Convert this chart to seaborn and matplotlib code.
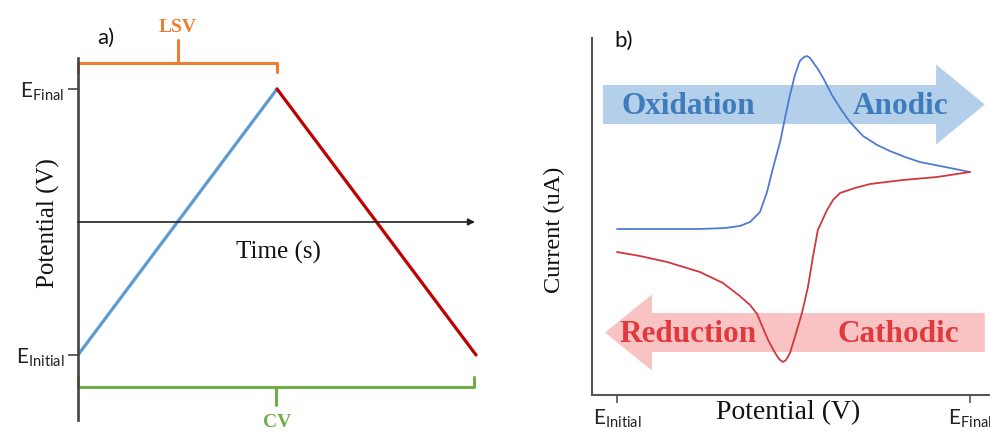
import matplotlib
matplotlib.use("Agg")
import matplotlib.pyplot as plt
from matplotlib.patches import FancyArrow
import seaborn as sns

# ---------------- data ----------------
# panel a: potential waveform (time, potential)
lsv_time = [0.0, 1.0]
lsv_potential = [-1.0, 1.0]
rev_time = [1.0, 2.0]
rev_potential = [1.0, -1.0]
a_tick_values = [-1.0, 1.0]
a_tick_labels = [r"$E_{Initial}$", r"$E_{Final}$"]

# panel b: cyclic voltammogram (normalised potential, current)
fwd_potential = [0.000, 0.122, 0.235, 0.306, 0.348, 0.377, 0.405, 0.425, 0.442,
                 0.462, 0.476, 0.490, 0.504, 0.518, 0.530, 0.538, 0.547, 0.555,
                 0.569, 0.584, 0.609, 0.632, 0.660, 0.697, 0.737, 0.773, 0.816,
                 0.858, 0.915, 0.958, 1.000]
fwd_current = [0.0, 0.0, 0.0, 0.1, 0.3, 0.7, 1.7, 3.7, 6.1,
               8.7, 11.1, 13.4, 15.4, 16.8, 17.2, 17.3, 17.1, 16.7,
               16.0, 15.1, 13.4, 12.1, 10.7, 9.3, 8.4, 7.8, 7.2,
               6.7, 6.3, 6.0, 5.7]
rev_pot_b = [1.000, 0.907, 0.810, 0.717, 0.674, 0.632, 0.612, 0.595, 0.569,
             0.555, 0.541, 0.524, 0.504, 0.490, 0.479, 0.470, 0.459, 0.448,
             0.428, 0.411, 0.397, 0.377, 0.348, 0.300, 0.235, 0.142, 0.065, 0.000]
rev_current = [5.7, 5.2, 4.9, 4.5, 4.1, 3.6, 2.9, 1.9, -0.1,
               -2.8, -5.8, -8.4, -10.8, -12.4, -13.1, -13.3, -13.0, -12.4,
               -11.1, -9.7, -8.5, -7.6, -6.7, -5.4, -4.3, -3.3, -2.7, -2.3]
b_tick_values = [0.0, 1.0]
b_tick_labels = [r"$E_{Initial}$", r"$E_{Final}$"]

# ---------------- style ----------------
sns.set_theme(style="white")
plt.rcParams["font.family"] = ["Liberation Serif", "DejaVu Serif"]
plt.rcParams["mathtext.default"] = "regular"

SANS = ["Lato", "DejaVu Sans"]
SERIF = ["Liberation Serif", "DejaVu Serif"]

W, H = 990, 432
fig = plt.figure(figsize=(W / 100, H / 100), dpi=100)
fig.patch.set_facecolor("white")


def px_axes(l, t, r, b):
    return fig.add_axes([l / W, 1 - b / H, (r - l) / W, (b - t) / H])


# ================= panel a =================
axa = px_axes(78, 58, 480, 420)
axa.set_facecolor("white")
sns.lineplot(x=lsv_time, y=lsv_potential, color="#5b9bd5", linewidth=2.3,
             estimator=None, sort=False, ax=axa)
sns.lineplot(x=rev_time, y=rev_potential, color="#c00000", linewidth=2.3,
             estimator=None, sort=False, ax=axa)
axa.set_xlim(0, 2.02)
axa.set_ylim(-1.489, 1.233)
for s in ["top", "right", "bottom"]:
    axa.spines[s].set_visible(False)
axa.spines["left"].set_color("#444444")
axa.spines["left"].set_linewidth(1.9)
axa.set_xticks([])
axa.set_yticks(a_tick_values)
axa.set_yticklabels(a_tick_labels, fontfamily=SANS, fontsize=15, color="#222222")
axa.tick_params(axis="y", left=True, direction="out", length=7, width=1.2,
                color="#444444", pad=3)
axa.set_ylabel("Potential (V)", fontsize=18, fontfamily=SERIF, color="#111111")
axa.yaxis.set_label_coords(-0.0746, 0.544)
axa.yaxis.label.set_va("center")

# time axis with arrow
axa.annotate("", xy=(1.995, 0), xytext=(0, 0),
             arrowprops=dict(arrowstyle="-|>", color="#222222", lw=1.2,
                             mutation_scale=10, shrinkA=0, shrinkB=0))
axa.text(1.005, -0.226, "Time (s)", fontsize=18, fontfamily=SERIF,
         ha="center", va="center", color="#111111")

# LSV bracket (orange)
orange = "#ed7d31"
axa.plot([0, 0, 1.0, 1.0], [1.128, 1.195, 1.195, 1.128], color=orange,
         lw=2.2, clip_on=False, solid_joinstyle="round")
axa.plot([0.503, 0.503], [1.195, 1.368], color=orange, lw=2.2, clip_on=False)
axa.text(0.503, 1.466, "LSV", color=orange, fontsize=14, fontweight="bold",
         fontfamily=SERIF, ha="center", va="center")

# CV bracket (green)
green = "#70ad47"
axa.plot([0, 0, 1.99, 1.99], [-1.165, -1.24, -1.24, -1.165], color=green,
         lw=2.2, clip_on=False, solid_joinstyle="round")
axa.plot([0.995, 0.995], [-1.24, -1.376], color=green, lw=2.2, clip_on=False)
fig.text(277 / W, 1 - 431 / H, "CV", color=green, fontsize=14,
         fontweight="bold", fontfamily=SERIF, ha="center", va="bottom")

fig.text(106 / W, 1 - 38 / H, "a)", fontsize=16, fontfamily=SANS,
         ha="center", va="center", color="#111111")

# ================= panel b =================
axb = px_axes(592, 38, 990, 395)
axb.set_facecolor("white")
axb.set_xlim(-0.0708, 1.0567)
axb.set_ylim(-16.6, 19.1)

blue_arrow = FancyArrow(-0.040, 12.45, 1.082, 0, width=3.9, head_width=8.0,
                        head_length=0.138, length_includes_head=True,
                        color="#b4cfea", lw=0, zorder=1)
red_arrow = FancyArrow(1.042, -10.35, -1.076, 0, width=3.9, head_width=7.6,
                       head_length=0.133, length_includes_head=True,
                       color="#f9c3c3", lw=0, zorder=1)
axb.add_patch(blue_arrow)
axb.add_patch(red_arrow)

txt_kw = dict(fontsize=22.5, fontweight="bold", fontfamily=SERIF,
              ha="center", va="center", zorder=2)
axb.text(0.201, 12.3, "Oxidation", color="#3f7cbb", **txt_kw)
axb.text(0.802, 12.3, "Anodic", color="#3f7cbb", **txt_kw)
axb.text(0.201, -10.5, "Reduction", color="#e0393e", **txt_kw)
axb.text(0.796, -10.5, "Cathodic", color="#e0393e", **txt_kw)

sns.lineplot(x=fwd_potential, y=fwd_current, color="#4f7bd1", linewidth=1.3,
             estimator=None, sort=False, ax=axb, zorder=3)
sns.lineplot(x=rev_pot_b, y=rev_current, color="#d0383c", linewidth=1.3,
             estimator=None, sort=False, ax=axb, zorder=3)

for s in ["top", "right"]:
    axb.spines[s].set_visible(False)
for s in ["left", "bottom"]:
    axb.spines[s].set_color("#555555")
    axb.spines[s].set_linewidth(1.5)
axb.set_yticks([])
axb.set_xticks(b_tick_values)
axb.set_xticklabels(b_tick_labels, fontfamily=SANS, fontsize=15, color="#222222")
axb.tick_params(axis="x", bottom=True, direction="out", length=6, width=1.2,
                color="#555555", pad=3)
axb.set_xlabel("Potential (V)", fontsize=20, fontfamily=SERIF, color="#111111")
axb.xaxis.set_label_coords(0.4925, -0.048)
axb.xaxis.label.set_va("center")
axb.set_ylabel("Current (uA)", fontsize=17.5, fontfamily=SERIF, color="#111111")
axb.yaxis.set_label_coords(-0.095, 0.462)
axb.yaxis.label.set_va("center")

fig.text(624 / W, 1 - 41 / H, "b)", fontsize=16, fontfamily=SANS,
         ha="center", va="center", color="#111111")

fig.savefig("out.png", dpi=100, facecolor="white")
